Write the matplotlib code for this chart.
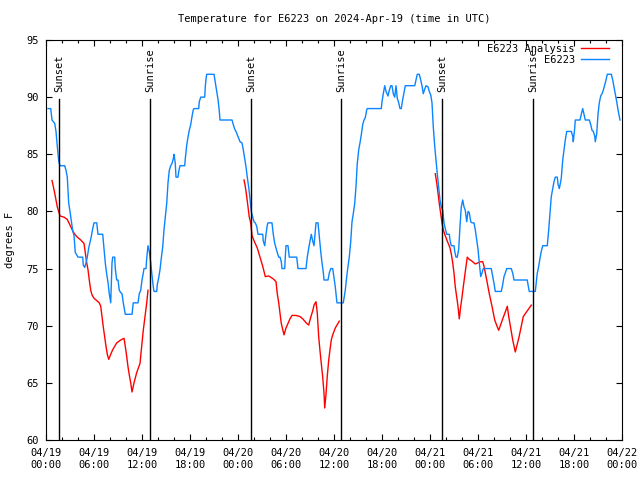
import numpy as np
import pandas as pd
import matplotlib
matplotlib.use('Agg')
import matplotlib.pyplot as plt
import matplotlib.dates as mdates

plt.rcParams['font.family'] = ['DejaVu Sans Mono']
FS = 7.5

# ── data: hours after 2024-04-19 00:00 UTC, temperature in F ────────────────
START = pd.Timestamp('2024-04-19 00:00')

obs_hours = [
    0.25, 0.59, 0.75, 1.09, 1.25, 1.41, 1.59, 1.75, 2.34, 2.5, 2.66, 2.84, 3.0,
    3.16, 3.34, 3.5, 3.66, 3.84, 4.0, 4.59, 4.66, 4.84, 5.0, 5.16, 5.34, 5.5,
    5.66, 5.84, 6.0, 6.34, 6.5, 7.09, 7.25, 7.41, 7.59, 7.75, 7.91, 8.09, 8.16,
    8.25, 8.34, 8.59, 8.66, 8.84, 9.0, 9.16, 9.34, 9.5, 9.66, 9.91, 10.75,
    10.91, 11.5, 11.66, 11.84, 12.0, 12.16, 12.25, 12.5, 12.59, 12.75, 12.91,
    13.09, 13.25, 13.41, 13.5, 13.84, 13.91, 14.09, 14.25, 14.41, 14.59, 14.75,
    14.91, 15.09, 15.25, 15.41, 15.59, 15.75, 15.91, 16.0, 16.16, 16.25, 16.5,
    16.59, 16.75, 17.34, 17.41, 17.59, 17.75, 17.91, 18.09, 18.25, 18.41, 18.5,
    19.09, 19.16, 19.34, 19.84, 19.91, 20.0, 20.09, 21.0, 21.16, 21.34, 21.5,
    21.66, 21.75, 23.25, 23.41, 23.59, 23.75, 23.91, 24.09, 24.25, 24.5, 24.66,
    24.84, 25.0, 25.16, 25.34, 25.5, 25.66, 25.84, 26.0, 26.16, 26.34, 26.5,
    27.09, 27.16, 27.34, 27.5, 27.66, 27.75, 28.25, 28.41, 28.59, 28.75, 28.91,
    29.09, 29.25, 29.41, 29.5, 29.84, 29.91, 30.0, 30.25, 30.41, 31.34, 31.5,
    32.5, 32.66, 32.84, 33.0, 33.16, 33.34, 33.5, 33.66, 33.75, 34.0, 34.16,
    34.34, 34.5, 34.66, 34.75, 35.25, 35.41, 35.59, 35.84, 36.0, 36.16, 36.25,
    36.37, 37.16, 37.25, 37.41, 37.59, 37.75, 37.91, 38.09, 38.25, 38.41, 38.59,
    38.75, 38.91, 39.09, 39.25, 39.41, 39.59, 39.75, 39.91, 40.09, 40.16, 41.91,
    42.0, 42.16, 42.34, 42.5, 42.75, 42.91, 43.09, 43.25, 43.41, 43.59, 43.75,
    43.91, 44.09, 44.25, 44.41, 44.59, 44.75, 44.91, 46.09, 46.25, 46.41, 46.66,
    46.84, 47.0, 47.16, 47.34, 47.5, 47.75, 47.91, 48.09, 48.25, 48.41, 48.59,
    48.75, 48.91, 49.09, 49.25, 49.41, 49.59, 49.75, 49.91, 50.09, 50.41, 50.5,
    50.66, 51.0, 51.09, 51.25, 51.41, 51.59, 51.75, 51.91, 52.09, 52.25, 52.41,
    52.59, 52.75, 52.91, 53.09, 53.25, 53.5, 53.66, 53.84, 54.0, 54.16, 54.34,
    54.5, 54.66, 55.66, 55.84, 56.0, 56.16, 56.91, 57.09, 57.25, 57.41, 57.59,
    58.16, 58.34, 58.5, 60.16, 60.25, 60.41, 61.16, 61.25, 61.41, 61.59, 61.75,
    61.91, 62.09, 62.66, 62.84, 63.0, 63.16, 63.34, 63.5, 63.66, 63.91, 64.0,
    64.16, 64.25, 64.41, 64.59, 64.75, 64.91, 65.09, 65.66, 65.84, 65.91, 66.09,
    66.16, 66.75, 66.91, 67.09, 67.25, 67.41, 67.91, 68.09, 68.25, 68.41, 68.59,
    68.66, 68.84, 69.0, 69.16, 69.34, 69.5, 69.66, 69.84, 70.0, 70.16, 70.66,
    70.84, 71.0, 71.16, 71.34, 71.5, 71.66, 71.75,
]
obs_temp = [
    89, 89, 88, 87.7, 87.0, 85.7, 84.4, 84, 84, 83.6, 83.0, 80.7, 80.0,
    79.2, 78.3, 77.9, 76.4, 76.2, 76, 76, 75.3, 75.1, 75.5, 76, 76.8, 77.3,
    77.8, 78.5, 79, 79, 78, 78, 76.8, 75.5, 74.5, 73.8, 72.8, 72, 73.5,
    75.5, 76, 76, 75, 74.0, 74.0, 73.1, 72.9, 72.8, 72.0, 71, 71,
    72, 72, 72.8, 73.1, 74.0, 74.6, 75, 75, 75.9, 77, 76.5,
    75.5, 74.4, 73.4, 73, 73, 73.6, 74.2, 74.9, 75.9, 76.9, 78.4,
    79.5, 80.7, 82.5, 83.6, 84, 84.2, 84.6, 85, 84.2, 83, 83,
    83.5, 84, 84, 84.6, 85.8, 86.5, 87.1, 87.6, 88.3, 88.9, 89,
    89, 89.6, 90, 90, 90.9, 91.6, 92, 92, 91.3, 90.5, 89.8,
    88.8, 88, 88, 87.6, 87.2, 87.0, 86.7, 86.4, 86.1, 86, 85.4,
    84.6, 83.9, 83.0, 82.1, 81.1, 80.0, 79.5, 79.1, 79.0, 78.7, 78,
    78, 77.4, 77, 78, 78.8, 79, 79, 78, 77.2, 76.8, 76.4,
    76, 76, 75.6, 75, 75, 76, 77, 77, 76, 76, 75,
    75, 76, 76.8, 77.4, 78, 77.4, 77, 78.3, 79, 79, 77.8,
    76.5, 75.5, 74.7, 74, 74, 74.6, 75, 75, 74.2, 73.4, 72.8,
    72, 72, 72.4, 73.1, 74.3, 75.2, 76.0, 77.35, 79.1, 79.8, 80.7,
    82.2, 84.2, 85.4, 86.0, 86.7, 87.6, 88, 88.2, 88.9, 89, 89,
    89.6, 90.3, 91, 90.5, 90.1, 90.6, 91, 91, 90.3, 90.0, 91,
    89.9, 89.5, 89, 89, 89.8, 90.4, 91, 91, 91.5, 92, 92,
    91.5, 91, 90.3, 90.7, 91, 90.9, 90.5, 90.2, 89.5, 87.4, 85.7,
    84.5, 83.3, 82.1, 81.0, 80.4, 80.1, 79.0, 78.5, 78, 78, 77.5,
    77, 77, 76.5, 76, 76, 76.7, 78.7, 80.4, 81, 80.4, 80.1,
    79.1, 80, 79.9, 79.1, 79, 79, 78.4, 77.5, 76.7, 75.5, 74.3,
    74.6, 75, 75, 74.3, 73.7, 73, 73, 73.6, 74.3, 74.6, 75,
    75, 74.6, 74, 74, 73.6, 73, 73, 73.6, 74.6, 75.2, 75.9,
    76.5, 77, 77, 78.4, 79.8, 81.3, 82.0, 82.6, 83, 83, 82.4,
    82, 82.3, 82.9, 84.5, 85.4, 86.25, 87, 87, 86.6, 86.1, 87.3,
    88, 88, 88.5, 89, 88.5, 88, 88, 87.6, 87.1, 87.0, 86.6,
    86.1, 86.8, 88.5, 89.5, 90.1, 90.3, 90.6, 91.06, 91.5, 92, 92,
    91.5, 90.9, 90.3, 89.6, 88.9, 88.3, 88,
]

# analysis: three overnight pieces
ana_hours = [
    [0.75, 0.91, 1.09, 1.25, 1.41, 1.75, 2.25, 2.66, 3.0, 3.34, 3.5, 3.84, 4.34,
     4.75, 4.91, 5.09, 5.25, 5.41, 5.59, 5.75, 6.0, 6.34, 6.66, 6.84, 7.0, 7.16,
     7.34, 7.5, 7.66, 7.84, 8.09, 8.34, 8.59, 8.84, 9.34, 9.75, 9.91, 10.09,
     10.25, 10.41, 10.59, 10.75, 11.0, 11.34, 11.75, 11.96, 12.16, 12.375,
     12.59, 12.75],
    [24.75, 24.91, 25.09, 25.25, 25.41, 25.59, 25.75, 25.91, 26.09, 26.41, 26.75,
     27.09, 27.41, 27.84, 28.41, 28.75, 28.91, 29.09, 29.25, 29.41, 29.75, 30.0,
     30.25, 30.5, 30.75, 31.25, 31.75, 32.09, 32.34, 32.59, 32.84, 33.0, 33.16,
     33.34, 33.5, 33.75, 33.91, 34.09, 34.25, 34.41, 34.59, 34.75, 34.84, 35.0,
     35.16, 35.34, 35.5, 35.66, 35.84, 36.0, 36.16, 36.66],
    [48.66, 48.84, 49.0, 49.16, 49.34, 49.5, 49.66, 49.84, 50.0, 50.16, 50.34,
     50.5, 50.66, 50.84, 51.0, 51.16, 51.34, 51.5, 51.66, 51.84, 52.0, 52.16,
     52.5, 52.66, 52.91, 53.16, 53.66, 54.34, 54.59, 54.75, 55.09, 55.25, 55.41,
     55.75, 56.09, 56.41, 56.59, 57.09, 57.41, 57.66, 57.84, 58.16, 58.34, 58.66,
     59.125, 59.66, 60.16, 60.66],
]
ana_temp = [
    [82.7, 82.2, 81.6, 81.0, 80.4, 79.6, 79.5, 79.3, 78.8, 78.3, 78.1, 77.8, 77.5,
     77.2, 76.4, 75.5, 74.9, 74.0, 73.1, 72.7, 72.4, 72.2, 72.0, 71.7, 70.8, 69.9,
     69.0, 68.2, 67.5, 67.06, 67.5, 67.9, 68.2, 68.5, 68.75, 68.9, 68.2, 67.3,
     66.4, 65.7, 65.0, 64.2, 65.0, 65.9, 66.7, 68.2, 69.6, 70.8,
     72.0, 73.1],
    [82.75, 82.2, 81.3, 80.4, 79.5, 79.0, 77.9, 77.6, 77.3, 76.8, 76.0,
     75.2, 74.3, 74.35, 74.1, 73.85, 72.8, 72.0, 71.1, 70.2, 69.2, 69.8,
     70.2, 70.6, 70.9, 70.9, 70.8, 70.6, 70.4, 70.2, 70.06, 70.5, 70.9,
     71.3, 71.8, 72.1, 71.1, 69.0, 67.8, 66.7, 65.5, 64.1, 62.8, 64.0,
     65.6, 67.0, 67.9, 68.75, 69.2, 69.5, 69.8, 70.4],
    [83.3, 82.5, 81.6, 80.7, 79.8, 79.0, 78.4, 78.0, 77.7, 77.4, 77.1,
     76.8, 76.3, 75.5, 74.6, 73.4, 72.5, 71.7, 70.6, 71.7, 72.5, 73.4,
     75.2, 76.0, 75.8, 75.7, 75.4, 75.6, 75.6, 75.2, 74.0, 73.4, 72.8,
     71.7, 70.5, 69.9, 69.6, 70.6, 71.2, 71.7, 70.8, 69.5, 68.75, 67.7,
     69.0, 70.8, 71.3, 71.8],
]

sun_hours = [1.66, 13.04, 25.66, 36.91, 49.54, 60.91]
sun_labels = ['Sunset', 'Sunrise', 'Sunset', 'Sunrise', 'Sunset', 'Sunrise']


def to_time(h):
    return START + pd.to_timedelta(np.asarray(h, dtype=float), unit='h')


# ── figure ────────────────────────────────────────────────────────────────────
fig = plt.figure(figsize=(6.4, 4.8), dpi=100)
ax = fig.add_axes([46 / 640, 40 / 480, 576 / 640, 400 / 480])

for k, (hh, tt) in enumerate(zip(ana_hours, ana_temp)):
    ax.plot(to_time(hh), tt, color='#ff0000', lw=1.0,
            label='E6223 Analysis' if k == 0 else None)
ax.plot(to_time(obs_hours), obs_temp, color='#0a84ff', lw=1.0, label='E6223')

for h, lab in zip(sun_hours, sun_labels):
    t = to_time([h])[0]
    ax.axvline(t, ymin=0, ymax=0.8525, color='black', lw=1.0)
    ax.text(t, 0.87, lab, transform=ax.get_xaxis_transform(), rotation=90,
            ha='center', va='bottom', fontsize=FS)

ax.set_xlim(START, START + pd.Timedelta(hours=72))
ax.set_ylim(60, 95)
ax.set_yticks(np.arange(60, 96, 5))
ax.xaxis.set_major_locator(mdates.HourLocator(byhour=[0, 6, 12, 18]))
ax.xaxis.set_minor_locator(mdates.HourLocator(interval=2))
ax.xaxis.set_major_formatter(mdates.DateFormatter('%m/%d\n%H:%M'))

ax.tick_params(which='both', direction='in', top=True, right=True,
               labelsize=FS, width=0.8)
ax.tick_params(which='major', length=4)
ax.tick_params(which='minor', length=2)
ax.tick_params(axis='y', pad=5)
ax.tick_params(axis='x', pad=6)
for s in ax.spines.values():
    s.set_linewidth(0.8)

ax.set_ylabel('degrees F', fontsize=FS)
ax.yaxis.set_label_coords(-31 / 576, 0.5)
ax.text(0.5, 1 + 21 / 400, 'Temperature for E6223 on 2024-Apr-19 (time in UTC)',
        transform=ax.transAxes, ha='center', va='center', fontsize=FS)

ax.legend(loc='upper right', bbox_to_anchor=(0.978, 0.99), frameon=False,
          markerfirst=False, fontsize=FS, borderpad=0, borderaxespad=0,
          handlelength=2.7, handletextpad=0.6, labelspacing=0.1)

fig.savefig('out.png', dpi=100)
